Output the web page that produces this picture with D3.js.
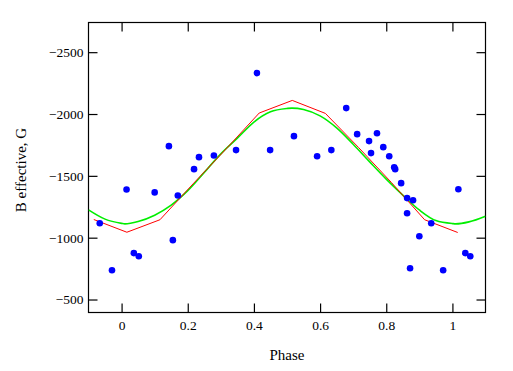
<!DOCTYPE html>
<html>
<head>
<meta charset="utf-8">
<script src="https://cdn.jsdelivr.net/npm/d3@7"></script>
<style>
    body { margin: 0; background: #fff; }
</style>
</head>
<body>
<script>
// DATA

// measured points (phase, B effective)
let obsPhase = [
    -0.066, -0.029, 0.015, 0.037, 0.052, 0.100, 0.143, 0.155, 0.170, 0.219,
    0.234, 0.279, 0.346, 0.409, 0.449, 0.521, 0.591, 0.634, 0.679, 0.712,
    0.748, 0.754, 0.772, 0.791, 0.809, 0.824, 0.827, 0.845, 0.863, 0.881,
    0.863, 0.872, 0.900, 0.936, 0.972, 1.018, 1.039, 1.054
]
let obsField = [
    -1117, -737, -1390, -875, -850, -1366, -1740, -980, -1341, -1554,
    -1651, -1665, -1708, -2331, -1708, -1821, -1659, -1708, -2048, -1837,
    -1781, -1684, -1845, -1732, -1659, -1570, -1554, -1441, -1320, -1303,
    -1198, -753, -1012, -1117, -737, -1392, -875, -850
]

// red model (broken line)
let redPhase = [-0.084, 0.016, 0.116, 0.216, 0.316, 0.416, 0.516, 0.616, 0.716, 0.816, 0.916, 1.016]
let redField = [-1147, -1044, -1145, -1435, -1718, -2008, -2110, -2005, -1730, -1445, -1145, -1042]

// green model (smooth curve)
let greenPhase = [
    -0.1, -0.05, 0, 0.01, 0.05, 0.1, 0.15, 0.2, 0.25, 0.3, 0.35, 0.4, 0.45,
    0.5, 0.515, 0.55, 0.6, 0.65, 0.7, 0.75, 0.8, 0.85, 0.9, 0.95, 1.0, 1.01, 1.05, 1.1
]
let greenField = [
    -1225, -1150, -1116, -1112, -1131, -1182, -1263, -1380, -1528, -1678, -1805, -1935, -2018,
    -2045, -2048, -2037, -1985, -1888, -1756, -1613, -1473, -1344, -1224, -1138, -1114, -1112, -1128, -1174
]

let xTicks = [0, 0.2, 0.4, 0.6, 0.8, 1]
let yTicks = [-2500, -2000, -1500, -1000, -500]

// CANVAS
let width = 513
let height = 371
// plot frame edges
let plotL = 88.5, plotR = 485.5, plotT = 22.5, plotB = 312.5
let serif = '"Liberation Serif", "Times New Roman", serif'

let svg = d3.select('body').append('svg')
    .attr('width', width)
    .attr('height', height)

let xScale = d3.scaleLinear().domain([-0.1, 1.1]).range([plotL, plotR])
// y axis runs upside down: more negative field at the top
let yScale = d3.scaleLinear().domain([-395, -2740]).range([plotB, plotT])

// clip so the curves stop at the frame
svg.append('clipPath').attr('id', 'plot')
    .append('rect')
    .attr('x', plotL).attr('y', plotT)
    .attr('width', plotR - plotL).attr('height', plotB - plotT)

// AXES (ticks pointing inward on all four sides)
let fmt = d3.format('')
let axes = []
axes.push(svg.append('g')
    .attr('transform', 'translate(0,' + plotB + ')')
    .call(d3.axisBottom(xScale).tickValues(xTicks).tickSize(-9).tickPadding(8).tickFormat(fmt)))
axes.push(svg.append('g')
    .attr('transform', 'translate(0,' + plotT + ')')
    .call(d3.axisTop(xScale).tickValues(xTicks).tickSize(-9).tickFormat('')))
axes.push(svg.append('g')
    .attr('transform', 'translate(' + plotL + ',0)')
    .call(d3.axisLeft(yScale).tickValues(yTicks).tickSize(-9).tickPadding(5).tickFormat(fmt)))
axes.push(svg.append('g')
    .attr('transform', 'translate(' + plotR + ',0)')
    .call(d3.axisRight(yScale).tickValues(yTicks).tickSize(-9).tickFormat('')))

axes.forEach(g => {
    g.attr('font-family', serif).attr('font-size', 13.5)
    g.select('.domain').remove()
    g.selectAll('.tick line').attr('stroke', '#000').attr('stroke-width', 1.2)
    g.selectAll('.tick text').attr('fill', '#000')
})

// frame
svg.append('rect')
    .attr('x', plotL).attr('y', plotT)
    .attr('width', plotR - plotL).attr('height', plotB - plotT)
    .attr('fill', 'none')
    .attr('stroke', '#000')
    .attr('stroke-width', 1.2)

// MODEL CURVES
let plot = svg.append('g').attr('clip-path', 'url(#plot)')

let greenLine = d3.line()
    .x((d, i) => xScale(greenPhase[i]))
    .y((d, i) => yScale(greenField[i]))
    .curve(d3.curveMonotoneX)
plot.append('path')
    .attr('d', greenLine(greenPhase))
    .attr('fill', 'none')
    .attr('stroke', '#00ee00')
    .attr('stroke-width', 1.6)

let redLine = d3.line()
    .x((d, i) => xScale(redPhase[i]))
    .y((d, i) => yScale(redField[i]))
plot.append('path')
    .attr('d', redLine(redPhase))
    .attr('fill', 'none')
    .attr('stroke', '#ff0000')
    .attr('stroke-width', 1)

// MEASURED POINTS
plot.selectAll('circle')
    .data(obsPhase)
    .enter().append('circle')
    .attr('cx', (d, i) => xScale(obsPhase[i]))
    .attr('cy', (d, i) => yScale(obsField[i]))
    .attr('r', 3.3)
    .attr('fill', '#0000ff')

// AXIS TITLES
svg.append('text')
    .attr('x', (plotL + plotR) / 2)
    .attr('y', 360)
    .attr('text-anchor', 'middle')
    .attr('font-family', serif)
    .attr('font-size', 15)
    .text('Phase')

svg.append('text')
    .attr('transform', 'translate(26,' + 170 + ') rotate(-90)')
    .attr('text-anchor', 'middle')
    .attr('font-family', serif)
    .attr('font-size', 15)
    .text('B effective, G')
</script>
</body>
</html>
